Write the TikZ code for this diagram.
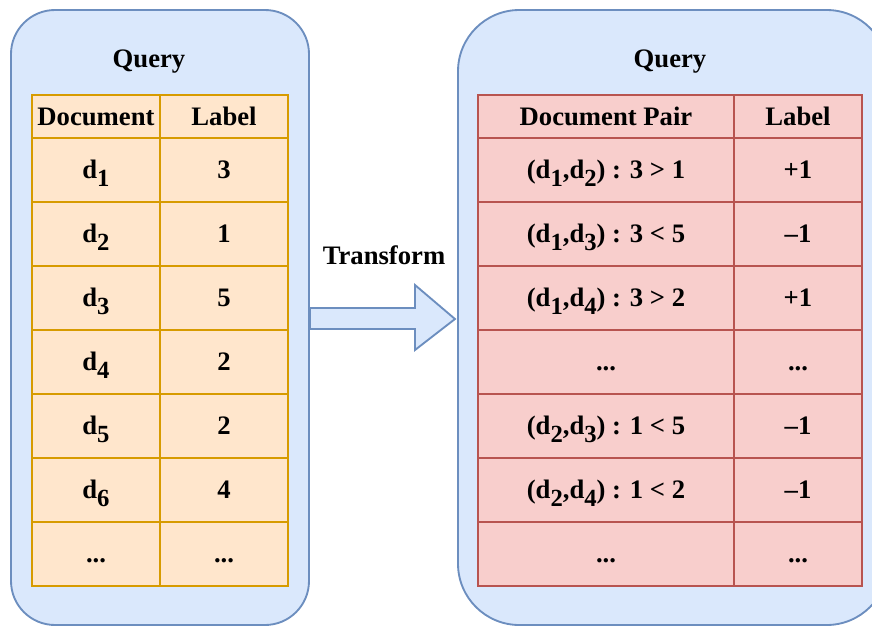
\documentclass[tikz,border=0pt]{standalone}
\usepackage{fontspec}
\setmainfont{Liberation Serif}
\definecolor{boxfill}{HTML}{DAE8FC}
\definecolor{boxline}{HTML}{6C8EBF}
\definecolor{ofill}{HTML}{FFE6CC}
\definecolor{oline}{HTML}{D79B00}
\definecolor{rfill}{HTML}{F8CECC}
\definecolor{rline}{HTML}{B85450}
% document name with a lowered index, e.g. d_1
\newcommand\dsub[1]{d\raisebox{-5.5pt}{\fontsize{18.5}{19}\selectfont #1}}
\newcommand\tdots{...}
\begin{document}
\begin{tikzpicture}[x=0.75pt,y=-0.75pt,
  every node/.style={font=\fontsize{20}{24}\selectfont\bfseries, inner sep=0pt,
                     text height=13.4pt, text depth=0pt},
  container/.style={draw=boxline, fill=boxfill, line width=1.4pt},
  lcell/.style={draw=oline, fill=ofill, line width=1.4pt},
  rcell/.style={draw=rline, fill=rfill, line width=1.4pt},
  bigarrow/.style={draw=boxline, fill=boxfill, line width=1.4pt, line join=miter}]
\useasboundingbox (0,0) rectangle (872,626);
\begin{scope}
\clip (0,0) rectangle (872,626);

% the two query panels
\node[container, minimum width=298*0.75pt, minimum height=615*0.75pt,
      rounded corners=33pt] (leftbox) at (160,317.5) {};
\node[container, minimum width=430*0.75pt, minimum height=615*0.75pt,
      rounded corners=46pt] (rightbox) at (673,317.5) {};

% transform arrow between the panels
\coordinate (tip) at (455,319);
\draw[bigarrow] (leftbox.east |- 0,308) -- (415,308) -- (415,285)
  -- (tip) -- (415,350) -- (415,329)
  -- (leftbox.east |- 0,329) -- cycle;
\node (transform) at (384,255.5) {Transform};

% titles
\node (lquery) at (149,59) {Query};
\node (rquery) at (670,59) {Query};

% left table: documents and their relevance labels
\node[lcell, minimum width=128*0.75pt, minimum height=43*0.75pt] (lh1) at (96,116.5) {Document};
\node[lcell, minimum width=128*0.75pt, minimum height=43*0.75pt] (lh2) at (224,116.5) {Label};
\foreach \a/\b [count=\k] in {{\dsub{1}}/3,{\dsub{2}}/1,{\dsub{3}}/5,{\dsub{4}}/2,
                              {\dsub{5}}/2,{\dsub{6}}/4,{\tdots}/{\tdots}} {
  \pgfmathsetmacro\yc{170+64*(\k-1)}
  \node[lcell, minimum width=128*0.75pt, minimum height=64*0.75pt] (ld\k) at (96,\yc) {\a};
  \node[lcell, minimum width=128*0.75pt, minimum height=64*0.75pt] (ll\k) at (224,\yc) {\b};
}

% right table: document pairs and pairwise labels
\node[rcell, minimum width=256*0.75pt, minimum height=43*0.75pt] (rh1) at (606,116.5) {Document Pair};
\node[rcell, minimum width=128*0.75pt, minimum height=43*0.75pt] (rh2) at (798,116.5) {Label};
\foreach \a/\b [count=\k] in {{(\dsub{1},\dsub{2}) : 3 > 1}/{+1},
                              {(\dsub{1},\dsub{3}) : 3 < 5}/{--1},
                              {(\dsub{1},\dsub{4}) : 3 > 2}/{+1},
                              {\tdots}/{\tdots},
                              {(\dsub{2},\dsub{3}) : 1 < 5}/{--1},
                              {(\dsub{2},\dsub{4}) : 1 < 2}/{--1},
                              {\tdots}/{\tdots}} {
  \pgfmathsetmacro\yc{170+64*(\k-1)}
  \node[rcell, minimum width=256*0.75pt, minimum height=64*0.75pt] (rp\k) at (606,\yc) {\a};
  \node[rcell, minimum width=128*0.75pt, minimum height=64*0.75pt] (rl\k) at (798,\yc) {\b};
}
\end{scope}
\end{tikzpicture}
\end{document}
